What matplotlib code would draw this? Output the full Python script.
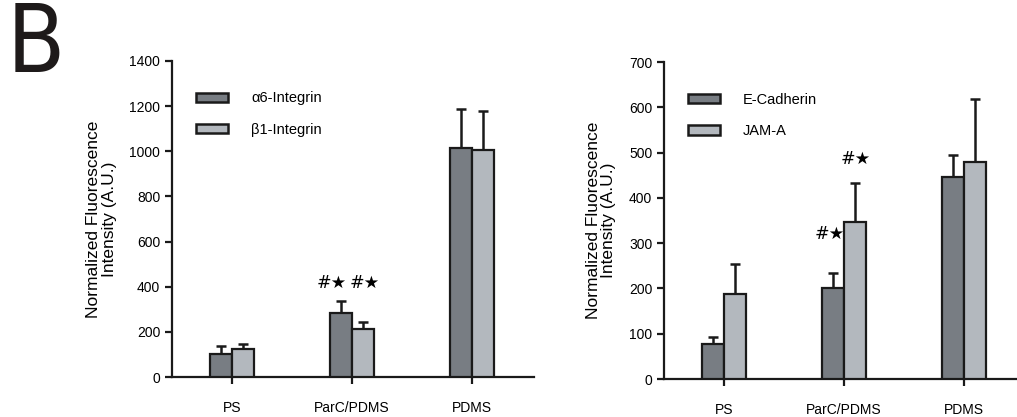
import matplotlib
matplotlib.use("Agg")
import matplotlib.pyplot as plt
import numpy as np
from matplotlib.patches import Patch

plt.rcParams['font.family'] = ['Liberation Sans', 'DejaVu Sans']

categories = ["PS", "ParC/PDMS", "PDMS"]

# Left panel
left_series = ["\u03b16-Integrin", "\u03b21-Integrin"]
left_means = [[102, 285, 1016], [124, 214, 1006]]
left_err = [[35, 50, 170], [21, 31, 172]]
# (category index, x offset from category centre, y value, text)
left_marks = [(1, -0.167, 417, "#\u2605"), (1, 0.108, 417, "#\u2605")]

# Right panel
right_series = ["E-Cadherin", "JAM-A"]
right_means = [[77, 200, 446], [188, 346, 479]]
right_err = [[15, 35, 49], [66, 88, 140]]
right_marks = [(1, -0.117, 320, "#\u2605"), (1, 0.10, 486, "#\u2605")]

colors = ["#787d83", "#b3b8be"]

fig = plt.figure(figsize=(10.17, 4.17), dpi=100)
fig.text(0.007, 1.0, "B", fontsize=68, va="top", ha="left", fontstretch="condensed",
         color="#1e1a1a", family=["DejaVu Sans"])

def draw(ax, series, means, errs, marks, ymax, ystep, xmax, legend_pos):
    x = np.arange(len(categories))
    w = 0.185
    for i, (name, m, e) in enumerate(zip(series, means, errs)):
        xs = x + (i - 0.5) * w
        ax.bar(xs, m, width=w, color=colors[i], edgecolor="#1a1a1a", linewidth=1.6, zorder=3, label=name)
        eb = ax.errorbar(xs, m, yerr=[np.zeros(len(m)), e], fmt="none", ecolor="#1a1a1a",
                         elinewidth=1.8, capsize=3.5, capthick=1.8, zorder=2)
        caps = eb[1]
        if len(caps) >= 2:
            caps[0].set_visible(False)
    for (c, dx, yv, txt) in marks:
        ax.text(c + dx, yv, txt, ha="center", va="center", fontsize=12.5, family=["DejaVu Sans"])
    ax.set_xlim(-0.5, xmax)
    ax.set_ylim(0, ymax)
    ax.set_yticks(np.arange(0, ymax + 1, ystep))
    ax.set_xticks(x)
    ax.set_xticklabels(categories)
    for sp in ["top", "right"]:
        ax.spines[sp].set_visible(False)
    for sp in ["left", "bottom"]:
        ax.spines[sp].set_linewidth(1.6)
        ax.spines[sp].set_color("#1a1a1a")
    ax.tick_params(axis="both", width=1.6, length=5, labelsize=10, color="#1a1a1a")
    ax.tick_params(axis="x", pad=12)
    ax.set_ylabel("Normalized Fluorescence\nIntensity (A.U.)", fontsize=12.5, labelpad=9,
                  linespacing=1.05)
    handles = [Patch(facecolor=colors[i], edgecolor="#1a1a1a", linewidth=1.8) for i in range(2)]
    ax.legend(handles, series, loc="upper left", bbox_to_anchor=legend_pos, frameon=False,
              fontsize=10.5, handlelength=2.2, handleheight=0.6, handletextpad=1.6, labelspacing=1.2)

ax1 = fig.add_axes([0.1691, 0.0959, 0.356, 0.758])
draw(ax1, left_series, left_means, left_err, left_marks, 1400, 200, 2.52, (0.03, 0.945))

ax2 = fig.add_axes([0.6529, 0.0911, 0.347, 0.760])
draw(ax2, right_series, right_means, right_err, right_marks, 700, 100, 2.44, (0.03, 0.945))

fig.savefig("out.png", dpi=100)
